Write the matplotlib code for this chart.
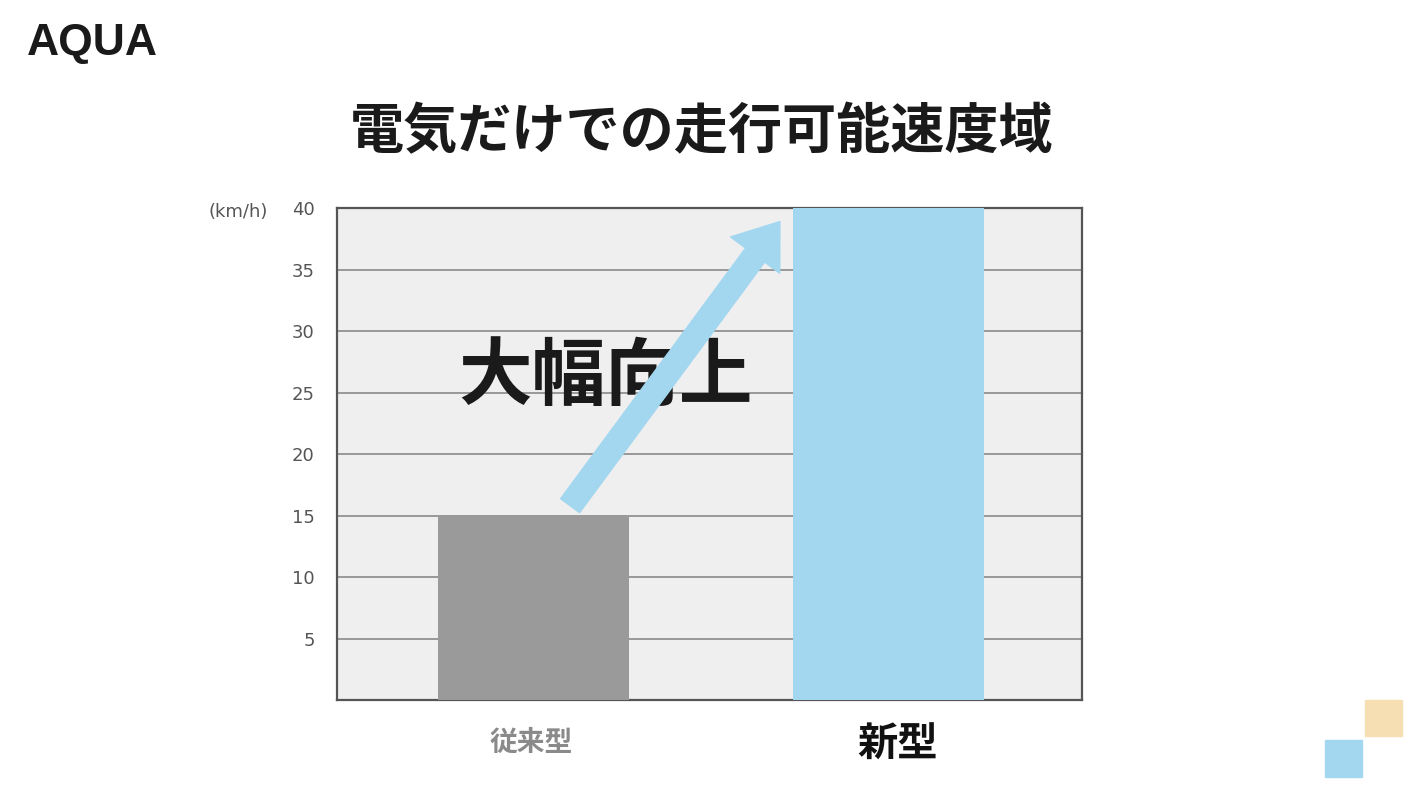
import matplotlib.pyplot as plt
import matplotlib.patches as mpatches

plt.rcParams['font.family'] = ['Noto Sans CJK JP', 'DejaVu Sans']

categories = ['従来型', '新型']
speeds = [15, 40]
yticks = [5, 10, 15, 20, 25, 30, 35, 40]

fig = plt.figure(figsize=(14.2, 7.98), dpi=100)
fig.patch.set_facecolor('white')
ax = fig.add_axes([0.2373, 0.1228, 0.5247, 0.6165])
ax.set_facecolor('#efefef')

x = [0, 1]
ax.bar(x, speeds, width=0.538, color=['#9a9a9a', '#a3d7ef'], zorder=3)

ax.set_xlim(-0.5535, 1.545)
ax.set_ylim(0, 40)
ax.set_yticks(yticks)
ax.set_yticklabels([str(t) for t in yticks], color='#555555', fontsize=13,
                   family=['Liberation Sans Narrow', 'DejaVu Sans'])
ax.tick_params(axis='y', length=0, pad=16)
ax.set_xticks([])
ax.yaxis.grid(True, color='#8a8a8a', linewidth=1.2, zorder=1)
ax.set_axisbelow(True)
for s in ax.spines.values():
    s.set_color('#555555')
    s.set_linewidth(1.6)

# arrow
ax.annotate('', xy=(0.694, 38.9), xytext=(0.103, 15.8),
            arrowprops=dict(arrowstyle='simple,head_length=1.5,head_width=2.2,tail_width=0.85',
                            color='#a3d7ef', mutation_scale=20, shrinkA=0, shrinkB=0),
            zorder=5)
ax.text(0.204, 26.2, '大幅向上', fontsize=53, fontweight='bold', color='#1a1a1a',
        ha='center', va='center', zorder=4)

# category labels
fig.text(531 / 1420, 1 - 743 / 798, categories[0], fontsize=20, fontweight='bold',
         color='#8a8a8a', ha='center', va='center')
fig.text(898 / 1420, 1 - 745 / 798, categories[1], fontsize=29, fontweight='bold',
         color='#111111', ha='center', va='center')

fig.text(238 / 1420, 1 - 212 / 798, '(km/h)', fontsize=13, color='#555555',
         ha='center', va='center', family=['Liberation Sans Narrow', 'DejaVu Sans'])

fig.text(702 / 1420, 1 - 133 / 798, '電気だけでの走行可能速度域', fontsize=39,
         fontweight='bold', color='#1a1a1a', ha='center', va='center')
fig.text(27 / 1420, 1 - 44 / 798, 'AQUA', fontsize=32, color='#1a1a1a', fontweight='bold',
         ha='left', va='center', family=['Liberation Sans', 'DejaVu Sans'])

# decorative squares
fig.patches.append(mpatches.Rectangle((1365 / 1420, 1 - 736 / 798), 37 / 1420, 36 / 798,
                                      transform=fig.transFigure, color='#f6dfb2'))
fig.patches.append(mpatches.Rectangle((1325 / 1420, 1 - 777 / 798), 37 / 1420, 37 / 798,
                                      transform=fig.transFigure, color='#a3d7ef'))

fig.savefig('out.png', dpi=100)
